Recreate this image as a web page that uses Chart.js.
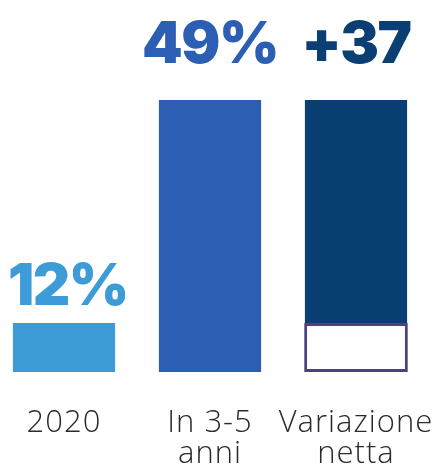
<!DOCTYPE html>
<html>
<head>
<meta charset="utf-8">
<script src="https://cdn.jsdelivr.net/npm/chart.js@4"></script>
<style>
  html, body { margin: 0; padding: 0; background: #ffffff; }
  #wrap { width: 443px; height: 467px; position: relative; }
</style>
</head>
<body>
<div id="wrap"><canvas id="c"></canvas></div>
<script>
// ---- data ----
const categories = [["2020"], ["In 3-5", "anni"], ["Variazione", "netta"]];
const shares = [12, 49];          // % in 2020, % in 3-5 years
const netChange = [37];           // net variation (points)
const valueLabels = ["12%", "49%", "+37"];

// ---- style ----
const Y_MIN = 3.87;
const barColors = ["#3d9bd8", "#2c5fb4", "#0a3f74"];
const labelColors = ["#3d9bd8", "#2c5fb4", "#0a3f74"];

const mainData = [
  [Y_MIN, shares[0]],
  [Y_MIN, shares[1]],
  [shares[0], shares[0] + netChange[0]]
];
const boxData = [null, null, [Y_MIN, shares[0]]];

const spacingPlugin = {
  id: 'tickSpacing',
  beforeDraw(chart) { try { chart.ctx.letterSpacing = '1px'; } catch (e) {} },
  afterDraw(chart) { try { chart.ctx.letterSpacing = '0px'; } catch (e) {} }
};

const valueLabelPlugin = {
  id: 'valueLabels',
  afterDatasetsDraw(chart) {
    const ctx = chart.ctx;
    const meta = chart.getDatasetMeta(0);
    const top = chart.chartArea.top;
    ctx.save();
    ctx.font = '900 58px Inter';
    try { ctx.letterSpacing = '-1.5px'; } catch (e) {}
    ctx.textAlign = 'center';
    ctx.textBaseline = 'alphabetic';
    meta.data.forEach((el, i) => {
      const y = (el.y - top) < 5 ? top - 37 : el.y - 18;
      ctx.fillStyle = labelColors[i];
      ctx.fillText(valueLabels[i], el.x + (i === 0 ? 4 : 0), y);
    });
    ctx.restore();
  }
};

new Chart(document.getElementById('c'), {
  type: 'bar',
  data: {
    labels: categories,
    datasets: [
      {
        data: mainData,
        backgroundColor: barColors,
        borderWidth: 0,
        barPercentage: 0.7,
        categoryPercentage: 1.0,
        grouped: false,
        clip: false,
        order: 2
      },
      {
        data: boxData,
        backgroundColor: '#ffffff',
        borderColor: '#4a4282',
        borderWidth: 3,
        borderSkipped: false,
        barPercentage: 0.71,
        categoryPercentage: 1.0,
        grouped: false,
        clip: false,
        order: 1
      }
    ]
  },
  options: {
    responsive: true,
    maintainAspectRatio: false,
    animation: false,
    devicePixelRatio: 1,
    layout: { padding: { top: 100, left: 64, right: 87, bottom: 0 } },
    plugins: { legend: { display: false }, tooltip: { enabled: false } },
    scales: {
      x: {
        type: 'category',
        offset: false,
        grid: { display: false, drawTicks: false },
        border: { display: false },
        ticks: {
          color: '#2a2a2a',
          font: { family: 'Open Sans', size: 31, weight: '300', lineHeight: 1.0 },
          padding: 36,
          maxRotation: 0,
          autoSkip: false
        },
        afterFit(scale) {
          scale.height = 95;
          scale.paddingLeft = 0;
          scale.paddingRight = 0;
        }
      },
      y: {
        display: false,
        min: Y_MIN,
        max: 49
      }
    }
  },
  plugins: [spacingPlugin, valueLabelPlugin]
});
</script>
</body>
</html>
